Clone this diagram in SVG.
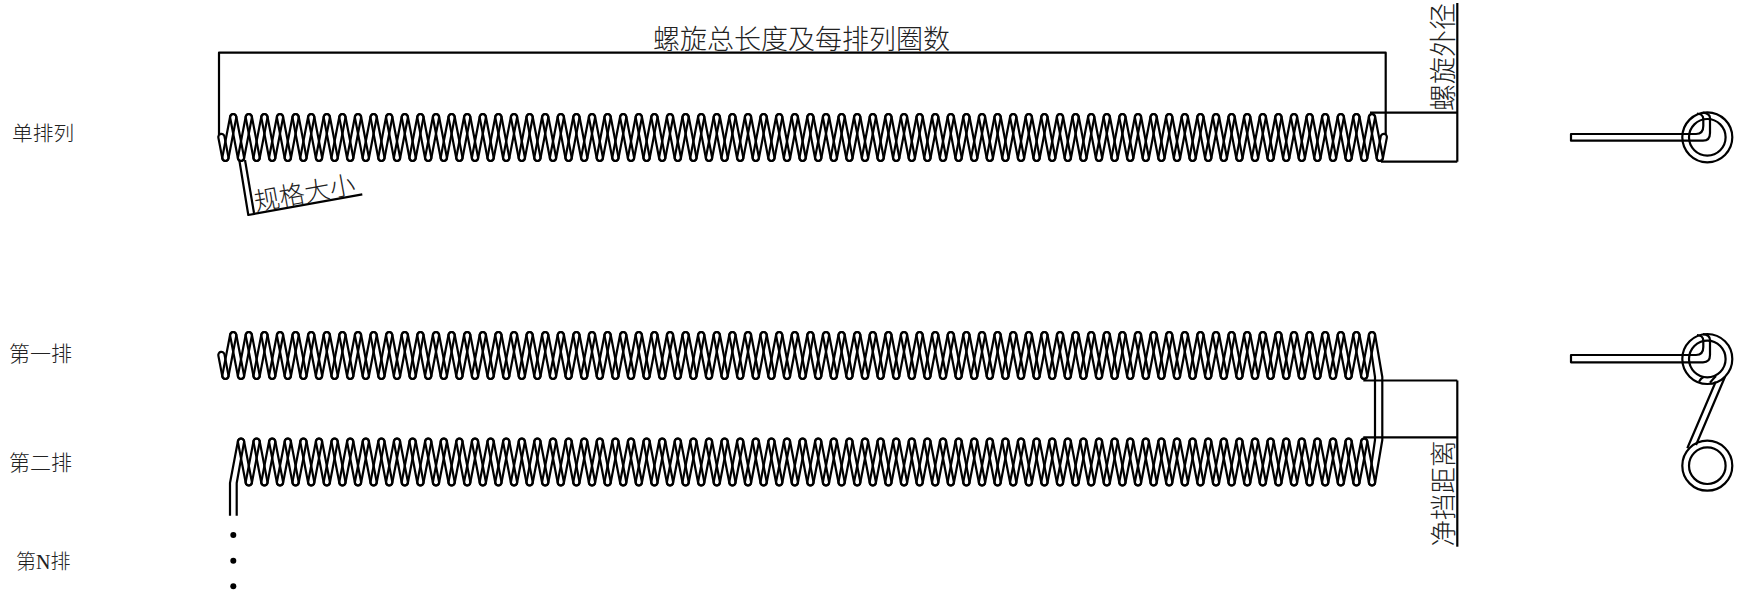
<svg xmlns="http://www.w3.org/2000/svg" xmlns:xlink="http://www.w3.org/1999/xlink" width="1737" height="593" viewBox="0 0 1737 593">
<style>
.w{fill:none;stroke:#000;stroke-width:2.2;stroke-linejoin:round}
.t{font-family:"Liberation Serif","Noto Sans CJK SC",serif;fill:#222;font-weight:300}
</style>
<defs>
<path id="dn" d="M3.045,2.518L10.845,43.318A3.1,3.1 0 0 1 4.755,44.482L-3.045,3.682A3.1,3.1 0 0 1 3.045,2.518Z"/>
<path id="up" d="M10.845,44.482L18.645,3.682A3.1,3.1 0 0 0 12.555,2.518L4.755,43.318A3.1,3.1 0 0 0 10.845,44.482Z"/>
<g id="turn"><use href="#dn"/><use href="#up"/></g>
<g id="t5"><use href="#turn"/><use href="#turn" x="15.6"/><use href="#turn" x="31.2"/><use href="#turn" x="46.8"/><use href="#turn" x="62.4"/></g>
<g id="t25"><use href="#t5"/><use href="#t5" x="78"/><use href="#t5" x="156"/><use href="#t5" x="234"/><use href="#t5" x="312"/></g>
<g id="c72"><use href="#t25"/><use href="#t25" x="390"/><use href="#t5" x="780"/><use href="#t5" x="858"/><use href="#t5" x="936"/><use href="#t5" x="1014"/><use href="#turn" x="1092"/><use href="#turn" x="1107.6"/></g>
<g id="c73"><use href="#c72"/><use href="#turn" x="1123.2"/></g>
<path id="hookL" d="M6.845,22.418L10.845,43.318A3.1,3.1 0 0 1 4.755,44.482L0.755,23.582A3.1,3.1 0 0 1 6.845,22.418Z"/>
<path id="hookR" d="M10.845,44.482L14.845,23.582A3.1,3.1 0 0 0 8.755,22.418L4.755,43.318A3.1,3.1 0 0 0 10.845,44.482Z"/>
</defs>

<g id="coil-single" class="w">
<use href="#hookL" x="217.6" y="114"/>
<use href="#up" x="217.6" y="114"/>
<use href="#c73" x="233.2" y="114"/>
<use href="#dn" x="1372" y="114"/>
<use href="#hookR" x="1372" y="114"/>
</g>

<g id="coil-row-1" class="w">
<use href="#hookL" x="217.6" y="332"/>
<use href="#up" x="217.6" y="332"/>
<use href="#c73" x="233.2" y="332"/>
</g>

<g id="coil-link" class="w">
<path d="M1368.955,335.682A3.1,3.1 0 0 1 1375.045,334.518L1382.3,377V440L1375.045,482.982A3.1,3.1 0 0 1 1368.955,481.818L1375,440V377Z"/>
</g>

<g id="coil-row-2" class="w">
<path d="M230,515.7V483L237.955,441.018A3.1,3.1 0 0 1 244.045,442.182L236.7,483V515.7"/>
<use href="#c72" x="241" y="438.5"/>
<use href="#dn" x="1364.2" y="438.5"/>
</g>

<g id="dots" fill="#000">
<circle cx="233.3" cy="535" r="3"/>
<circle cx="233.3" cy="560.7" r="3"/>
<circle cx="233.3" cy="586.3" r="3"/>
</g>

<g id="connectors" class="w">
<path d="M219,135V52.7H1385.7V135"/>
<path d="M1370,112.7H1457.3"/>
<path d="M1381,161.7H1457.3"/>
<path d="M1457.3,3V161.7"/>
<path d="M1363.3,380.5H1457.3"/>
<path d="M1363.3,437.3H1457.3"/>
<path d="M1457.3,380.5V546.7"/>
<path d="M239.3,160L248.3,215L362.3,194.3"/>
<path d="M245,160L254,213"/>
</g>

<g id="end-view-single" class="w">
<circle cx="1707.3" cy="137.3" r="25"/>
<circle cx="1707.3" cy="137.3" r="18.3"/>
<path d="M1697,113.5Q1703.3,114 1703.3,119V126Q1703.3,134 1696,134H1571V140.7H1703Q1710,140.7 1710,133V118Q1710,113.5 1703,112.6"/>
</g>

<g id="end-view-double" class="w">
<circle cx="1707.3" cy="359" r="25"/>
<circle cx="1707.3" cy="359" r="18.3"/>
<path d="M1697,335Q1703.3,335.5 1703.3,340.7V347Q1703.3,355 1696,355H1571V362.3H1703Q1710,362.3 1710,355V340Q1710,335 1703,334.2"/>
<circle cx="1707.3" cy="465.7" r="25"/>
<circle cx="1707.3" cy="465.7" r="18.3"/>
<path d="M1715.7,381.7L1687.3,448.3M1725,376.7L1696,445"/>
<path d="M1699,381.7Q1701,378 1704,376.8M1710,382.7Q1713,379 1716,376"/>
</g>

<g id="labels" class="t">
<text x="653" y="49" font-size="27">螺旋总长度及每排列圈数</text>
<text transform="translate(1453,111) rotate(-90)" font-size="27">螺旋外径</text>
<text transform="translate(1453,546.5) rotate(-90)" font-size="26.5">净挡距离</text>
<text transform="translate(256,211) rotate(-10.3)" font-size="25.5">规格大小</text>
<text x="12" y="141" font-size="20.7">单排列</text>
<text x="9" y="361" font-size="21">第一排</text>
<text x="9" y="470" font-size="21">第二排</text>
<text x="16" y="569" font-size="20">第N排</text>
</g>
</svg>
